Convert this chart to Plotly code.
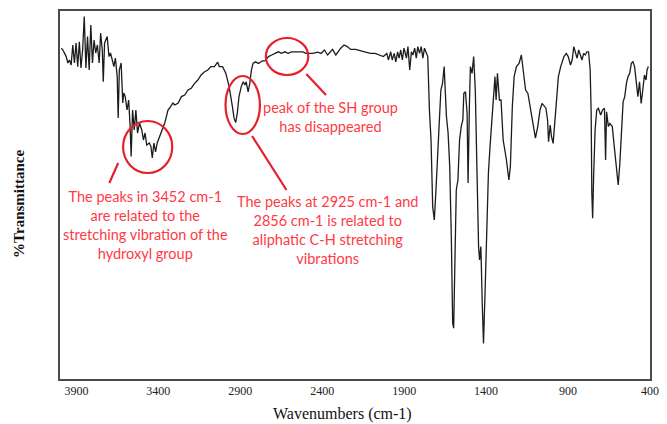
import plotly.graph_objects as go

# FTIR spectrum: wavenumber (cm-1) and relative transmittance
wavenumber = [
    3992, 3982, 3962, 3952, 3942, 3932, 3922, 3912, 3902, 3892, 3882, 3872, 3862, 3852,
    3842, 3832, 3822, 3812, 3802, 3792, 3782, 3772, 3761, 3752, 3742, 3736, 3728, 3712,
    3701, 3692, 3681, 3671, 3662, 3651, 3645, 3638, 3627, 3617, 3611, 3602, 3591, 3581,
    3572, 3566, 3557, 3547, 3537, 3527, 3515, 3501, 3491, 3481, 3471, 3455, 3445, 3437,
    3427, 3417, 3407, 3391, 3375, 3361, 3351, 3341, 3331, 3311, 3299,
    3279, 3259, 3239, 3219, 3199, 3179, 3159, 3139, 3118, 3098, 3079, 3058, 3038, 3028,
    3008, 2988, 2968, 2948, 2938, 2928, 2918, 2908, 2894, 2882, 2872, 2864, 2852, 2842,
    2832, 2822, 2808, 2788, 2768, 2748, 2728, 2708, 2688, 2668, 2648, 2628,
    2608, 2588, 2558, 2518, 2498, 2457, 2427, 2407, 2387, 2367, 2337, 2317, 2287, 2267,
    2247, 2227, 2197, 2167, 2137, 2107, 2077, 2047, 2027, 2006, 1996, 1982, 1973, 1961,
    1951, 1940, 1931, 1921, 1911, 1901, 1886, 1877, 1866, 1856, 1847, 1836, 1826, 1817,
    1806, 1796, 1786, 1776, 1766, 1756,
    1746, 1736, 1726, 1716, 1706, 1696, 1686, 1676, 1666, 1656, 1650, 1642, 1632, 1622,
    1612, 1604, 1598, 1592, 1582, 1572, 1562, 1552, 1542, 1536, 1526, 1516, 1510, 1502,
    1496, 1486, 1476, 1466, 1456, 1446, 1440, 1432, 1423, 1416, 1406, 1396, 1386, 1376,
    1366, 1356, 1346, 1339, 1331, 1319, 1309, 1296, 1276, 1261, 1252, 1240, 1229, 1215,
    1199, 1185, 1175, 1159, 1145, 1125,
    1115, 1099, 1085, 1071, 1059, 1045, 1035, 1025, 1019, 1009, 1001, 991, 981, 971,
    959, 945, 935, 925, 911, 899, 885, 875, 865, 855, 845, 835, 825, 815, 805, 795, 785,
    775, 765, 759, 755, 750, 744, 735, 725, 715, 701, 690, 678, 671, 665, 654, 645, 630,
    618, 604, 594, 584, 574, 564, 554, 544, 534, 524, 514, 504, 494, 484, 474, 464, 454,
    444, 434, 424, 418, 410,
]
transmittance = [
    90.7, 90.25, 88.6, 87.0, 87.75, 86.5, 91.5, 87.0, 92.0, 86.1, 92.3, 85.75, 90.25, 98.6,
    85.75, 93.6, 85.25, 96.5, 87.0, 92.75, 89.5, 91.5, 87.0, 94.5, 90.25, 82.3, 92.0, 93.6,
    88.6, 89.5, 87.75, 86.1, 88.25, 83.6, 73.25, 85.25, 87.0, 77.0, 79.5, 78.6, 75.25, 77.75,
    71.1, 63.6, 75.25, 70.25, 75.25, 69.5, 72.0, 70.25, 67.75, 69.5, 66.5, 67.0, 66.1, 63.25,
    67.0, 64.8, 67.0, 68.6, 70.25, 72.0, 73.6, 75.25, 75.75, 77.0, 76.5,
    77.0, 78.6, 79.0, 80.25, 80.7, 81.9, 82.75, 84.0, 84.8, 85.25, 86.1, 86.1, 87.2, 86.1,
    86.1, 84.4, 81.1, 76.1, 73.2, 72.1, 74.5, 78.6, 81.1, 82.3, 81.5, 82.3, 79.8, 81.9,
    85.25, 86.9, 87.3, 86.9, 87.5, 87.6, 88.6, 89.0, 89.4, 89.8, 89.4, 89.8,
    89.4, 89.8, 89.8, 89.8, 89.4, 89.4, 89.7, 89.4, 90.25, 89.0, 90.4, 89.0, 90.7, 91.5,
    91.1, 90.4, 90.4, 90.1, 89.8, 89.4, 89.4, 89.0, 88.6, 89.4, 87.75, 89.8, 87.75, 89.4,
    87.3, 89.8, 88.2, 90.25, 87.75, 90.7, 88.2, 91.1, 85.25, 89.8, 89.0, 90.7, 88.2, 91.1,
    89.4, 91.1, 88.2, 90.7, 89.4, 88.6,
    75.25, 67.75, 51.1, 47.75, 55.25, 65.25, 72.0, 80.25, 81.9, 86.1, 81.1, 73.6, 69.5, 61.1,
    42.75, 22.0, 20.7, 34.5, 55.25, 57.75, 67.75, 71.1, 72.75, 79.4, 79.8, 74.5, 57.0, 76.1,
    86.1, 84.4, 88.6, 80.25, 59.5, 41.1, 37.75, 41.1, 26.1, 16.9, 30.25, 47.0, 59.5, 66.1,
    72.0, 80.25, 83.6, 77.75, 84.4, 77.75, 77.75, 67.75, 62.75, 57.75, 61.1, 76.1, 83.6, 86.1,
    86.9, 89.0, 86.1, 80.25, 79.4, 74.4,
    72.75, 68.2, 71.1, 75.25, 76.9, 76.1, 75.7, 72.75, 67.3, 71.5, 68.6, 66.9, 71.9, 78.6,
    83.6, 86.1, 87.3, 88.6, 89.4, 88.6, 86.5, 87.75, 91.1, 89.4, 88.2, 90.25, 89.0, 87.75, 89.4, 89.0, 89.8,
    89.8, 85.25, 74.5, 54.5, 48.2, 58.6, 70.25, 75.25, 75.7, 74.0, 75.25, 75.7, 62.75, 74.8, 71.1, 71.9, 71.1,
    66.1, 60.25, 56.5, 61.9, 70.25, 77.3, 78.6, 81.9, 83.6, 84.4, 86.9, 87.3, 86.1, 82.75, 78.6, 82.3, 76.9,
    80.25, 84.0, 82.75, 85.25, 86.1,
]

x_ticks = [3900, 3400, 2900, 2400, 1900, 1400, 900, 400]

# Highlighted regions (wavenumber span, transmittance span)
circle_x = [(3615, 3315), (2990, 2780), (2744, 2485)]
circle_y = [(59.5, 72.5), (69.25, 83.75), (84.0, 93.25)]

# Pointer segments from each circle to its note
pointer_x = [(3645, 3699), (2828, 2618), (2497, 2377)]
pointer_y = [(62.0, 57.0), (68.75, 55.25), (84.25, 79.0)]

notes = [
    "The peaks in 3452 cm-1<br>are related to the<br>stretching vibration of the<br>hydroxyl group",
    "The peaks at 2925 cm-1 and<br>2856 cm-1 is related to<br>aliphatic C-H stretching<br>vibrations",
    "peak of the SH group<br>has disappeared",
]
note_x = [3477, 2365, 2350]
note_y = [46.6, 45.25, 73.4]

RED_LINE = "#E5202A"
RED_TEXT = "#FF3A45"

fig = go.Figure()
fig.add_trace(go.Scatter(
    x=wavenumber, y=transmittance, mode="lines",
    line=dict(color="#1c1c1c", width=1.3), hoverinfo="x+y", showlegend=False,
))

for (x0, x1), (y0, y1) in zip(circle_x, circle_y):
    fig.add_shape(type="circle", xref="x", yref="y", x0=x0, x1=x1, y0=y0, y1=y1,
                  line=dict(color=RED_LINE, width=2.2))

for (x0, x1), (y0, y1) in zip(pointer_x, pointer_y):
    fig.add_shape(type="line", xref="x", yref="y", x0=x0, x1=x1, y0=y0, y1=y1,
                  line=dict(color=RED_LINE, width=2.2))

for text, x, y in zip(notes, note_x, note_y):
    fig.add_annotation(x=x, y=y, xref="x", yref="y", text=text, showarrow=False,
                       align="center", xanchor="center", yanchor="middle",
                       font=dict(family="Lato, Open Sans, sans-serif", size=14.5, color=RED_TEXT))

fig.add_annotation(text="<b>%Transmittance</b>", xref="paper", yref="paper",
                   x=-0.070, y=0.475, textangle=-90, showarrow=False,
                   xanchor="center", yanchor="middle",
                   font=dict(family="Liberation Serif, Times New Roman, serif", size=15, color="#111"))
fig.add_annotation(text="Wavenumbers (cm-1)", xref="paper", yref="paper",
                   x=0.478, y=-0.095, showarrow=False, xanchor="center", yanchor="middle",
                   font=dict(family="Liberation Serif, Times New Roman, serif", size=16, color="#111"))

fig.update_xaxes(
    range=[4000, 400], tickvals=x_ticks, ticktext=[str(t) for t in x_ticks],
    showgrid=False, zeroline=False, showline=True, mirror=True,
    linecolor="#4a4a4a", linewidth=1.5, ticks="",
    tickfont=dict(family="Liberation Serif, Times New Roman, serif", size=12, color="#222"),
)
fig.update_yaxes(
    range=[8, 100], showticklabels=False, showgrid=False, zeroline=False,
    showline=True, mirror=True, linecolor="#4a4a4a", linewidth=1.5, ticks="",
)
fig.update_layout(
    width=667, height=424,
    margin=dict(l=60, r=8, t=11, b=45),
    paper_bgcolor="white", plot_bgcolor="white",
)

fig.write_html("out.html")
